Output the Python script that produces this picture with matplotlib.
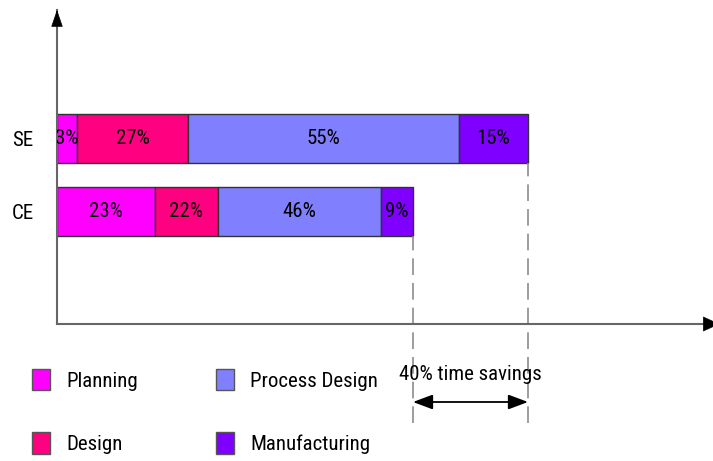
import matplotlib
matplotlib.use("Agg")
import matplotlib.pyplot as plt
from matplotlib.patches import Patch
from matplotlib import font_manager

# ---- data ----
categories = ["CE", "SE"]
phases = ["Planning", "Design", "Process Design", "Manufacturing"]
colors = ["#FF00FF", "#FF0080", "#8080FF", "#8000FF"]
# segment durations (arbitrary time units)
se_values = [20, 111, 271, 69]
ce_values = [98, 63, 163, 32]
se_labels = ["3%", "27%", "55%", "15%"]
ce_labels = ["23%", "22%", "46%", "9%"]
savings_text = "40% time savings"

names = {f.name for f in font_manager.fontManager.ttflist}
fam = "Liberation Sans"
for cand in ["Liberation Sans Narrow", "Arial Narrow", "Roboto Condensed", "Archivo Narrow", "PT Sans Narrow"]:
    if cand in names:
        fam = cand
        break
plt.rcParams["font.family"] = [fam, "DejaVu Sans"]
FS = 15

W, H = 713, 461
fig = plt.figure(figsize=(W / 100, H / 100), dpi=100)
ax = fig.add_axes([57 / W, 137 / H, 656 / W, 314 / H])

bar_h = 0.68
ylo, yhi = -1.54, 2.76
px_per_unit = 314 / (yhi - ylo)

rows = [(0, ce_values, ce_labels), (1, se_values, se_labels)]
for y, vals, labs in rows:
    left = 0
    for v, lab, c in zip(vals, labs, colors):
        ax.barh(y, v, left=left, height=bar_h, color=c, edgecolor="#333333", linewidth=1)
        ax.text(left + v / 2, y, lab, ha="center", va="center", fontsize=FS, clip_on=True)
        left += v

ax.set_xlim(0, 656)
ax.set_ylim(ylo, yhi)
ax.set_yticks([0, 1])
ax.set_yticklabels(categories, fontsize=FS)
ax.tick_params(axis="y", length=0, pad=17)
ax.set_xticks([])
for s in ["top", "right"]:
    ax.spines[s].set_visible(False)
for s in ["left", "bottom"]:
    ax.spines[s].set_color("#666666")
    ax.spines[s].set_linewidth(1.5)

# axis arrow heads
ax.annotate("", xy=(0, 1), xycoords="axes fraction", xytext=(0, -15), textcoords="offset pixels",
            arrowprops=dict(arrowstyle="-|>,head_length=1.1,head_width=0.38", color="black",
                            lw=0.5, shrinkA=0, shrinkB=0, mutation_scale=10), annotation_clip=False)
ax.annotate("", xy=(1.01, 0), xycoords="axes fraction", xytext=(-14, 0), textcoords="offset pixels",
            arrowprops=dict(arrowstyle="-|>,head_length=1.1,head_width=0.5", color="black",
                            lw=0.5, shrinkA=0, shrinkB=0, mutation_scale=10), annotation_clip=False)

# dashed guide lines
se_total = sum(se_values)
ce_total = sum(ce_values)
y_low = ylo - 99 / px_per_unit
ax.vlines(se_total, y_low, 1 - bar_h / 2, colors="#8c8c8c", linestyles=(0, (10, 4.8)), lw=1.2, clip_on=False)
ax.vlines(ce_total, y_low, 0 - bar_h / 2, colors="#8c8c8c", linestyles=(0, (10, 4.8)), lw=1.2, clip_on=False)

y_arr = ylo - 78 / px_per_unit
ax.annotate("", xy=(se_total, y_arr), xytext=(ce_total, y_arr), xycoords="data",
            arrowprops=dict(arrowstyle="<|-|>,head_length=1.2,head_width=0.45", color="black",
                            lw=1.3, shrinkA=0, shrinkB=0, mutation_scale=10), annotation_clip=False)
ax.text((se_total + ce_total) / 2, ylo - 51 / px_per_unit, savings_text, ha="center", va="center",
        fontsize=FS, clip_on=False)

handles = [Patch(facecolor=c, edgecolor="#555555", linewidth=1) for c in colors]
fig.legend(handles, phases, ncol=2,
           loc="upper left", bbox_to_anchor=(32 / W, 1 - 369 / H), frameon=False,
           fontsize=FS, handlelength=0.87, handleheight=1.2, handletextpad=0.8,
           columnspacing=3.7, labelspacing=2.0, borderpad=0, borderaxespad=0)

fig.savefig("out.png", dpi=100)
